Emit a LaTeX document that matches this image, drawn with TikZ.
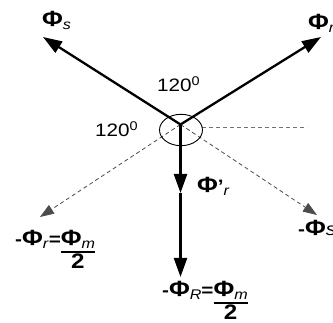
\documentclass[tikz,border=0pt]{standalone}
\usepackage{graphicx}
\usepackage{fontspec}
\setmainfont{Liberation Sans}
\usetikzlibrary{arrows.meta}
\newcommand\Ph{{\fontsize{22}{20}\selectfont\textbf{Φ}}}
\newcommand\sub[1]{\raisebox{-3pt}{\fontsize{14}{14}\selectfont\textit{#1}}}
\newcommand\hsc[1]{\scalebox{1.15}[1]{#1}}
\newcommand\myfr[1]{{\setlength\arrayrulewidth{1.6pt}\renewcommand\arraystretch{1}\begin{tabular}[t]{@{}c@{}}#1\\[-1pt]\hline\noalign{\vskip1pt}{\fontsize{21}{20}\selectfont\textbf{2}}\end{tabular}}}
\tikzset{
  vec/.style={line width=2.3pt, -{Triangle[length=19pt,width=13pt]}},
  dvec/.style={line width=0.8pt, black!70, dash pattern=on 4pt off 3pt, -{Triangle[length=14pt,width=10pt]}},
  dline/.style={line width=0.7pt, black!55, dash pattern=on 4pt off 3pt},
  lbl/.style={font=\fontsize{18}{20}\selectfont, inner sep=0pt, anchor=base west},
  ring/.style={line width=0.9pt}
}
\begin{document}
\begin{tikzpicture}[x=1pt,y=-1pt]
\useasboundingbox (0,0) rectangle (333,323);
\fill[white] (0,0) rectangle (333,323);
% coordinates
\coordinate (O) at (180.5,124.5);
\coordinate (S) at (43,37);
\coordinate (R) at (321,37);
\coordinate (D1) at (40,217);
\coordinate (D2) at (317,215);
\coordinate (H0) at (202,127);
\coordinate (H1) at (307,127);
\coordinate (M) at (180.5,193);
\coordinate (B) at (180.5,277);
% dashed
\draw[dvec] (O) -- (D1);
\draw[dvec] (O) -- (D2);
\draw[dline] (H0) -- (H1);
% ring
\draw[ring] (181,130) ellipse [x radius=21.5, y radius=15.7];
% solid vectors
\draw[vec] (O) -- (S);
\draw[vec] (O) -- (R);
\draw[vec] (O) -- (M);
\draw[vec] (M) -- (B);
% labels
\node[lbl] (lS) at (42,27) {\hsc{\Ph\sub{s}}};
\node[lbl] (lR) at (308,30) {\hsc{\Ph\sub{r}}};
\node[lbl] (a1) at (157,92) {\hsc{120\textsuperscript{0}}};
\node[lbl] (a2) at (95,137) {\hsc{120\textsuperscript{0}}};
\node[lbl] (lP) at (197,193) {\hsc{\Ph\textbf{'}\sub{r}}};
\node[lbl] (lS2) at (298,236) {\hsc{\textbf{-}\Ph\textit{s}}};
\node[lbl] (lD1) at (15,246) {\hsc{\textbf{-}\Ph\sub{r}\textbf{=}\myfr{\Ph\sub{m}}}};
\node[lbl] (lB) at (162,297) {\hsc{\textbf{-}\Ph\sub{R}\textbf{=}\myfr{\Ph\sub{m}}}};
\end{tikzpicture}
\end{document}
